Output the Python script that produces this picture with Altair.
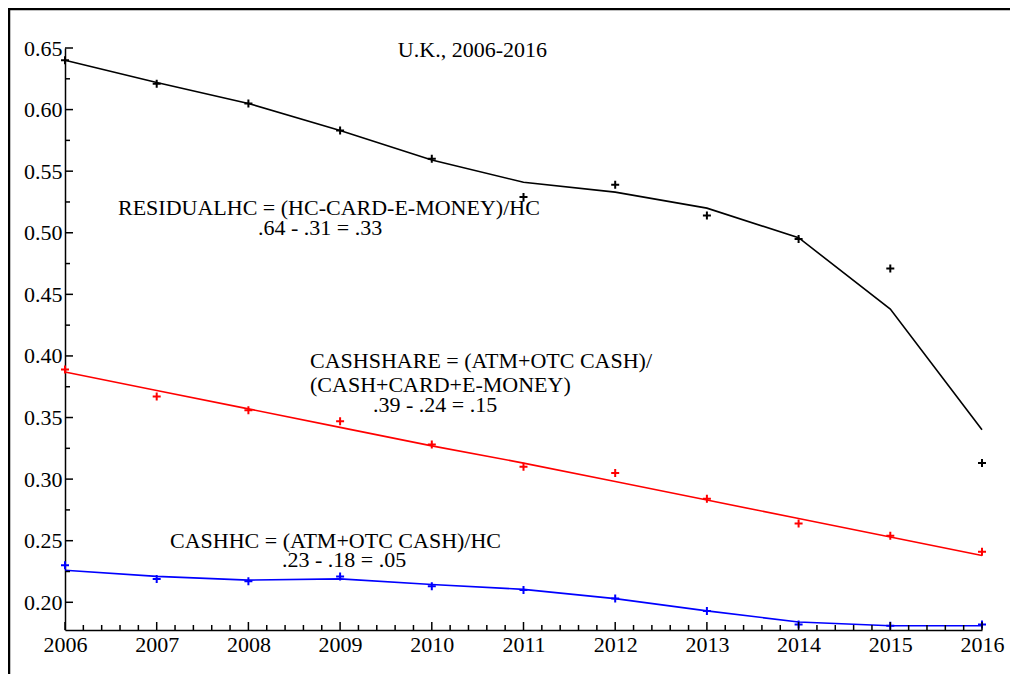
import altair as alt
import pandas as pd

years = list(range(2006, 2017))

residual_pts = [0.640, 0.621, 0.605, 0.583, 0.560, 0.529, 0.539, 0.514, 0.495, 0.471, 0.313]
residual_fit = [0.640, 0.622, 0.605, 0.583, 0.559, 0.541, 0.533, 0.520, 0.496, 0.438, 0.340]
cashshare_pts = [0.389, 0.367, 0.356, 0.347, 0.328, 0.310, 0.305, 0.284, 0.264, 0.254, 0.241]
cashshare_fit = [0.387, 0.372, 0.357, 0.342, 0.327, 0.313, 0.298, 0.283, 0.268, 0.253, 0.238]
cashhc_pts = [0.230, 0.219, 0.217, 0.221, 0.213, 0.210, 0.203, 0.193, 0.182, 0.181, 0.182]
cashhc_fit = [0.226, 0.221, 0.218, 0.219, 0.2145, 0.2105, 0.203, 0.193, 0.184, 0.181, 0.181]

series_names = ["RESIDUALHC", "CASHSHARE", "CASHHC"]
series_colors = ["#000000", "#ff0000", "#0000ff"]

y_major = [0.20, 0.25, 0.30, 0.35, 0.40, 0.45, 0.50, 0.55, 0.60, 0.65]
y_minor = [0.225, 0.275, 0.325, 0.375, 0.425, 0.475, 0.525, 0.575, 0.625]
x_minor = [y + f for y in years[:-1] for f in (0.2, 0.4, 0.6, 0.8)]

notes_text = [
    "U.K., 2006-2016",
    "RESIDUALHC = (HC-CARD-E-MONEY)/HC",
    ".64 - .31 = .33",
    "CASHSHARE = (ATM+OTC CASH)/",
    "(CASH+CARD+E-MONEY)",
    ".39 - .24 = .15",
    "CASHHC = (ATM+OTC CASH)/HC",
    ".23 - .18 = .05",
]
notes_x = [2009.63, 2006.578, 2008.105, 2008.672, 2008.672, 2009.359, 2007.145, 2008.366]
notes_y = [0.6427, 0.5146, 0.4983, 0.3905, 0.3706, 0.3547, 0.2444, 0.2285]

W, H = 917, 582
FONT = "Liberation Serif"

fit_rows, pt_rows = [], []
for name, pts, fit in zip(series_names,
                          [residual_pts, cashshare_pts, cashhc_pts],
                          [residual_fit, cashshare_fit, cashhc_fit]):
    for yr, p, f in zip(years, pts, fit):
        fit_rows.append({"year": yr, "value": f, "series": name})
        pt_rows.append({"year": yr, "value": p, "series": name})
df_fit = pd.DataFrame(fit_rows)
df_pts = pd.DataFrame(pt_rows)
df_notes = pd.DataFrame({"year": notes_x, "value": notes_y, "text": notes_text})

x_scale = alt.Scale(domain=[2006, 2016], nice=False, zero=False)
y_scale = alt.Scale(domain=[0.1775, 0.65], nice=False, zero=False)

X = alt.X("year:Q", scale=x_scale,
          axis=alt.Axis(values=years, format="d", title=None, ticks=False,
                        grid=False, labelPadding=4, domainColor="black",
                        domainWidth=1.5, labelFont=FONT, labelFontSize=22,
                        labelColor="black", labelFlush=False))
Y = alt.Y("value:Q", scale=y_scale,
          axis=alt.Axis(values=y_major, format=".2f", title=None, ticks=False,
                        grid=False, labelPadding=3, domainColor="black",
                        domainWidth=1.5, labelFont=FONT, labelFontSize=22,
                        labelColor="black", labelFlush=False))
C = alt.Color("series:N", scale=alt.Scale(domain=series_names, range=series_colors),
              legend=None)

lines = alt.Chart(df_fit).mark_line(strokeWidth=1.6).encode(x=X, y=Y, color=C)
points = alt.Chart(df_pts).mark_point(
    shape="M-1,0H1M0,-1V1", size=64, strokeWidth=2, filled=False, opacity=1
).encode(x=X, y=Y, color=C)

notes = alt.Chart(df_notes).mark_text(
    font=FONT, fontSize=22, align="left", baseline="alphabetic", color="black"
).encode(x=X, y=Y, text="text:N")

xt_major = alt.Chart(pd.DataFrame({"year": years})).mark_rule(
    color="black", strokeWidth=1.5
).encode(x=X, y=alt.value(H), y2=alt.value(H - 8))
xt_minor = alt.Chart(pd.DataFrame({"year": x_minor})).mark_rule(
    color="black", strokeWidth=1.5
).encode(x=X, y=alt.value(H), y2=alt.value(H - 5))
yt_major = alt.Chart(pd.DataFrame({"value": y_major})).mark_rule(
    color="black", strokeWidth=1.5
).encode(y=Y, x=alt.value(0), x2=alt.value(8))
yt_minor = alt.Chart(pd.DataFrame({"value": y_minor})).mark_rule(
    color="black", strokeWidth=1.5
).encode(y=Y, x=alt.value(0), x2=alt.value(5))

frame_top = alt.Chart(pd.DataFrame({"k": [0]})).mark_rule(
    color="black", strokeWidth=2.5, clip=False
).encode(x=alt.value(-57), x2=alt.value(W + 28), y=alt.value(-39))
frame_left = alt.Chart(pd.DataFrame({"k": [0]})).mark_rule(
    color="black", strokeWidth=2.5, clip=False
).encode(x=alt.value(-56), y=alt.value(-40), y2=alt.value(H + 44))

chart = alt.layer(
    lines, points, notes, xt_major, xt_minor, yt_major, yt_minor,
    frame_top, frame_left
).properties(
    width=W, height=H,
    autosize=alt.AutoSizeParams(type="none"),
    padding={"left": 57, "top": 40, "right": 28, "bottom": 44},
).configure_view(stroke=None)

chart.save("out.html", embed_options={"renderer": "svg", "actions": False})
